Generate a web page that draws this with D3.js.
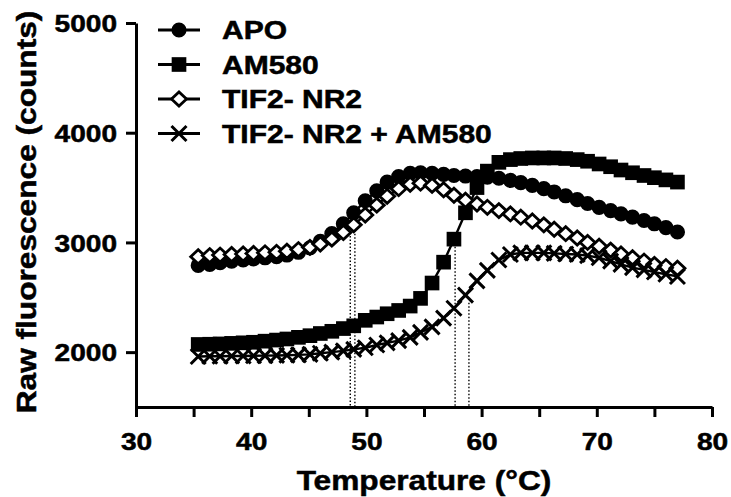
<!DOCTYPE html>
<html>
<head>
<meta charset="utf-8">
<script src="https://cdn.jsdelivr.net/npm/d3@7"></script>
<style>
  body { margin: 0; background: #fff; }
  text { font-family: "Liberation Sans", Arial, sans-serif; font-weight: bold; fill: #000; stroke: #000; stroke-width: 0.5px; }
</style>
</head>
<body>
<div id="chart"></div>
<script>
// temperatures (°C) of the melt scan
var temps = [35.4, 36.4, 37.3, 38.3, 39.3, 40.2, 41.2, 42.2, 43.1, 44.1, 45.1, 46.0, 47.0, 48.0, 48.9,
             49.9, 50.9, 51.8, 52.8, 53.8, 54.7, 55.7, 56.7, 57.6, 58.6, 59.6, 60.5, 61.5, 62.5, 63.4,
             64.4, 65.4, 66.3, 67.3, 68.3, 69.2, 70.2, 71.2, 72.1, 73.1, 74.1, 75.0, 76.0, 77.0];

var apo = [2790, 2800, 2815, 2830, 2840, 2850, 2860, 2870, 2885, 2910, 2950, 3010, 3080, 3170, 3270,
           3380, 3470, 3550, 3600, 3630, 3635, 3630, 3620, 3610, 3605, 3600, 3595, 3585, 3565, 3545,
           3520, 3490, 3460, 3425, 3390, 3355, 3320, 3290, 3260, 3230, 3200, 3170, 3135, 3095];

var am580 = [2070, 2072, 2075, 2080, 2085, 2090, 2100, 2110, 2120, 2135, 2150, 2170, 2190, 2215, 2240,
             2290, 2320, 2350, 2380, 2420, 2490, 2630, 2820, 3030, 3270, 3500, 3650, 3730, 3755, 3765,
             3770, 3770, 3770, 3765, 3755, 3740, 3715, 3690, 3660, 3635, 3610, 3590, 3570, 3550];

var tif2 = [2870, 2880, 2885, 2890, 2895, 2900, 2905, 2910, 2920, 2935, 2955, 2985, 3030, 3090, 3160,
            3250, 3340, 3420, 3490, 3530, 3540, 3520, 3480, 3430, 3385, 3350, 3320, 3290, 3260, 3230,
            3195, 3160, 3120, 3080, 3040, 3000, 2965, 2930, 2895, 2860, 2830, 2800, 2780, 2765];

var tif2Am580 = [1960, 1962, 1963, 1965, 1965, 1967, 1968, 1970, 1972, 1975, 1980, 1990, 2000, 2012, 2025,
                 2040, 2065, 2085, 2105, 2135, 2180, 2230, 2310, 2400, 2520, 2650, 2745, 2840, 2890, 2905,
                 2905, 2905, 2900, 2895, 2890, 2880, 2860, 2830, 2800, 2770, 2750, 2730, 2710, 2690];

var seriesNames = ["APO", "AM580", "TIF2- NR2", "TIF2- NR2 + AM580"];
var seriesShapes = ["circle", "square", "diamond", "cross"];

// melting temperatures marked by dotted drop lines, and where each line stops
var tmTemps = [48.6, 49.0, 57.7, 58.9];
var tmTops = [3090, 3110, 2960, 2450];

var xTicks = [30, 40, 50, 60, 70, 80];
var xMinorTicks = [35, 45, 55, 65, 75];
var yTicks = [2000, 3000, 4000, 5000];

var width = 731, height = 497;

var svg = d3.select("#chart").append("svg")
    .attr("width", width)
    .attr("height", height);

var x = d3.scaleLinear().domain([30, 80]).range([136, 712]);
var y = d3.scaleLinear().domain([1500, 5000]).range([407, 23]);

// marker paths, all centred on 0,0
function markerPath(shape) {
    if (shape === "circle") return d3.symbol().type(d3.symbolCircle).size(180)();
    if (shape === "square") return d3.symbol().type(d3.symbolSquare).size(215)();
    if (shape === "diamond") return "M-7.5,0L0,-7L7.5,0L0,7Z";
    return "M-7.5,-7.5L7.5,7.5M-7.5,7.5L7.5,-7.5";
}
function markerStyle(sel, shape) {
    if (shape === "circle" || shape === "square") {
        sel.attr("fill", "#000").attr("stroke", "none");
    } else if (shape === "diamond") {
        sel.attr("fill", "#fff").attr("stroke", "#000").attr("stroke-width", 2.8);
    } else {
        sel.attr("fill", "none").attr("stroke", "#000").attr("stroke-width", 3);
    }
}

// dotted drop lines
svg.append("g").selectAll("line")
    .data(tmTemps)
    .enter().append("line")
    .attr("x1", function(d) { return x(d); })
    .attr("x2", function(d) { return x(d); })
    .attr("y1", function(d, i) { return y(tmTops[i]); })
    .attr("y2", y(1500))
    .attr("stroke", "#000")
    .attr("stroke-width", 1.4)
    .attr("stroke-dasharray", "1.5,2");

var allSeries = [apo, am580, tif2, tif2Am580];

var line = d3.line()
    .x(function(d) { return x(d[0]); })
    .y(function(d) { return y(d[1]); });

allSeries.forEach(function(vals, si) {
    var pts = temps.map(function(t, i) { return [t, vals[i]]; });
    var g = svg.append("g").attr("class", "series");
    g.append("path")
        .attr("d", line(pts))
        .attr("fill", "none")
        .attr("stroke", "#000")
        .attr("stroke-width", 2.4);
    g.selectAll(".mk")
        .data(pts)
        .enter().append("path")
        .attr("class", "mk")
        .attr("transform", function(d) { return "translate(" + x(d[0]) + "," + y(d[1]) + ")"; })
        .attr("d", markerPath(seriesShapes[si]))
        .call(markerStyle, seriesShapes[si]);
});

// axes
var yAxis = svg.append("g")
    .attr("transform", "translate(136,0)")
    .call(d3.axisLeft(y).tickValues(yTicks).tickSize(10).tickSizeOuter(0).tickPadding(9).tickFormat(d3.format("d")));

var xAxisMinor = svg.append("g")
    .attr("transform", "translate(0,407)")
    .call(d3.axisBottom(x).tickValues(xMinorTicks).tickSize(10).tickSizeOuter(0).tickFormat(""));

var xAxis = svg.append("g")
    .attr("transform", "translate(0,407)")
    .call(d3.axisBottom(x).tickValues(xTicks).tickSize(10).tickSizeOuter(0).tickPadding(16));

[yAxis, xAxis, xAxisMinor].forEach(function(a) {
    a.select(".domain").attr("stroke", "#000").attr("stroke-width", 3);
    a.selectAll(".tick line").attr("stroke", "#000").attr("stroke-width", 3);
    a.selectAll(".tick text")
        .attr("class", "tickLabel")
        .style("font-size", "24px")
        .style("font-family", "'Liberation Sans', Arial, sans-serif")
        .style("font-weight", "bold")
        .attr("fill", "#000");
});
xAxisMinor.select(".domain").remove();
yAxis.selectAll(".tick text").attr("dy", "0.36em");
xAxis.selectAll(".tick text").attr("dy", "0.71em");

// axis titles
svg.append("text")
    .attr("class", "title")
    .attr("x", 424)
    .attr("y", 490)
    .attr("text-anchor", "middle")
    .style("font-size", "28px")
    .text("Temperature (°C)");

svg.append("text")
    .attr("class", "title")
    .attr("transform", "translate(36,212) rotate(-90)")
    .attr("text-anchor", "middle")
    .style("font-size", "28px")
    .text("Raw fluorescence (counts)");

// legend
var legend = svg.append("g").attr("transform", "translate(158,30)");
seriesNames.forEach(function(name, i) {
    var row = legend.append("g").attr("transform", "translate(0," + (i * 34.5) + ")");
    row.append("line")
        .attr("x1", 0).attr("x2", 42)
        .attr("stroke", "#000").attr("stroke-width", 2.8);
    row.append("path")
        .attr("transform", "translate(21,0)")
        .attr("d", markerPath(seriesShapes[i]))
        .call(markerStyle, seriesShapes[i]);
    row.append("text")
        .attr("class", "legendLabel")
        .attr("x", 64)
        .attr("y", 9)
        .style("font-size", "25px")
        .text(name);
});

// the figure's lettering is a little wider than Liberation Sans Bold
function widen(selection, k) {
    selection.each(function() {
        var w = this.getComputedTextLength();
        d3.select(this).attr("textLength", w * k).attr("lengthAdjust", "spacingAndGlyphs");
    });
}
widen(svg.selectAll(".tickLabel"), 1.17);
widen(svg.selectAll(".title"), 1.13);
widen(svg.selectAll(".legendLabel"), 1.2);
</script>
</body>
</html>
